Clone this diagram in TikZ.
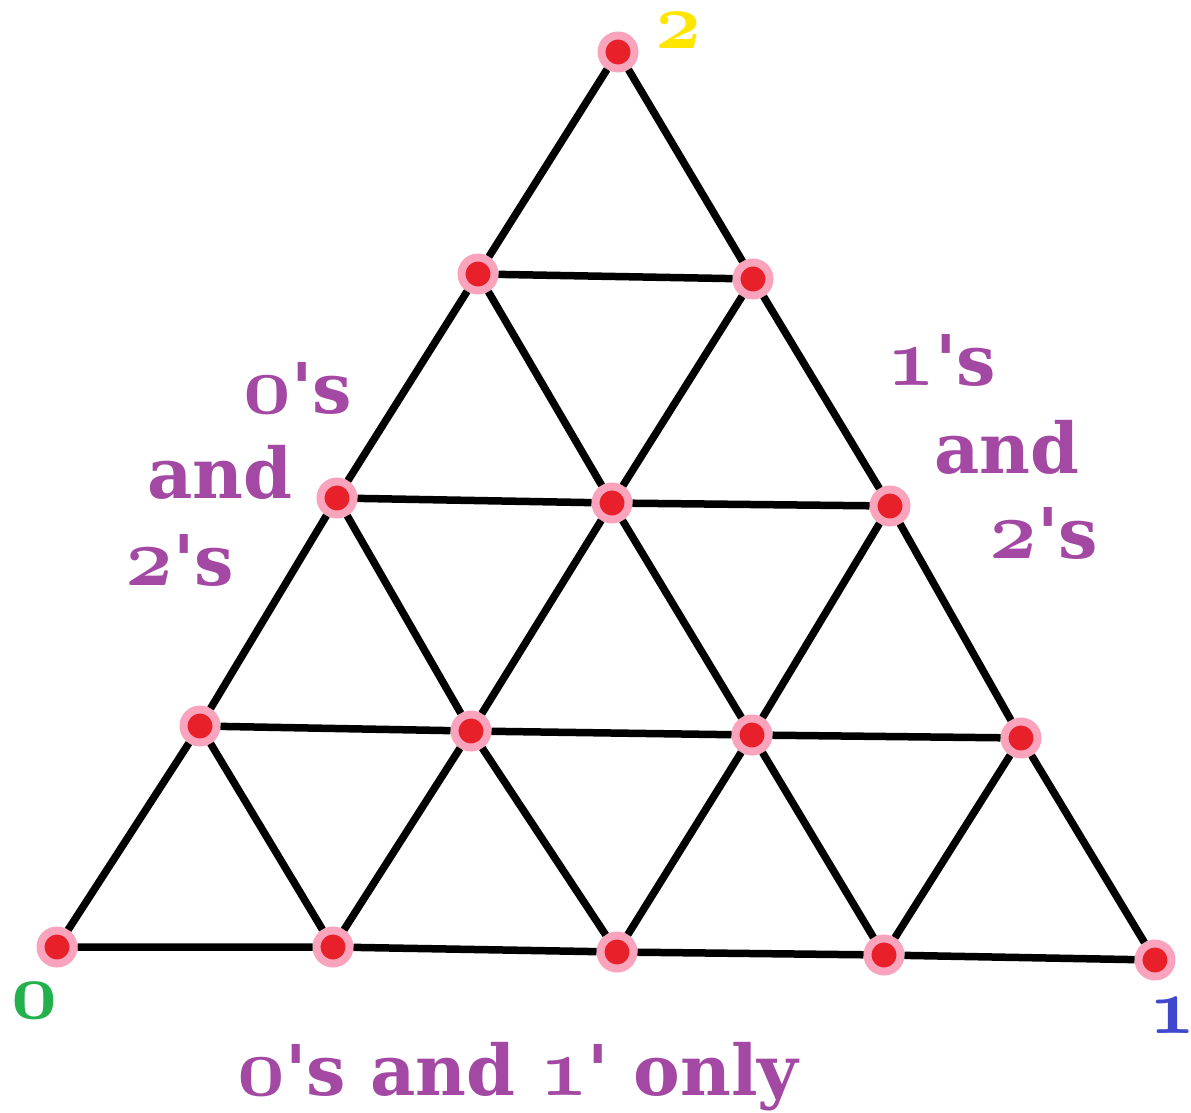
\documentclass[tikz,border=0pt]{standalone}
\usepackage{fontspec}
\setmainfont{DejaVu Serif}
\definecolor{dotred}{HTML}{E8202A}
\definecolor{halopink}{HTML}{F9A3BD}
\definecolor{lblpurple}{HTML}{A349A4}
\definecolor{zerogreen}{HTML}{22B14C}
\definecolor{oneblue}{HTML}{3F48CC}
\definecolor{twoyellow}{HTML}{FFE600}
\newcommand{\osn}[2][8.3]{\scalebox{#1}{\fontsize{10}{12}\usefont{OML}{cmm}{b}{it}#2}}

\begin{document}
\begin{tikzpicture}[x=1pt,y=-1pt,
  dot/.style={circle, fill=dotred, draw=halopink, line width=8pt, minimum size=33pt, inner sep=0pt},
  edge/.style={line width=7.5pt, black},
  lbl/.style={text=lblpurple, font=\bfseries\fontsize{70}{74}\selectfont, inner sep=0pt, anchor=base},
  corner/.style={inner sep=0pt, anchor=base}]
\useasboundingbox (0,0) rectangle (1191,1113);
\node[dot] (a0) at (57,947) {};
\node[dot] (a1) at (333,947) {};
\node[dot] (a2) at (617,952) {};
\node[dot] (a3) at (884,955) {};
\node[dot] (a4) at (1155,960) {};
\node[dot] (b0) at (200,726) {};
\node[dot] (b1) at (471,731) {};
\node[dot] (b2) at (752,735) {};
\node[dot] (b3) at (1021,738) {};
\node[dot] (c0) at (337,498) {};
\node[dot] (c1) at (612,503) {};
\node[dot] (c2) at (890,506) {};
\node[dot] (d0) at (478,274) {};
\node[dot] (d1) at (753,279) {};
\node[dot] (e0) at (618,52) {};
\draw[edge] (a0) -- (a1) -- (a2) -- (a3) -- (a4);
\draw[edge] (b0) -- (b1) -- (b2) -- (b3);
\draw[edge] (c0) -- (c1) -- (c2);
\draw[edge] (d0) -- (d1);
\draw[edge] (a0) -- (b0) -- (c0) -- (d0) -- (e0);
\draw[edge] (a1) -- (b1) -- (c1) -- (d1);
\draw[edge] (a2) -- (b2) -- (c2);
\draw[edge] (a3) -- (b3);
\draw[edge] (a4) -- (b3) -- (c2) -- (d1) -- (e0);
\draw[edge] (a3) -- (b2) -- (c1) -- (d0);
\draw[edge] (a2) -- (b1) -- (c0);
\draw[edge] (a1) -- (b0);
\node[lbl] (lefttop) at (298,413) {\osn{0}\textquotesingle s};
\node[lbl] (leftmid) at (220,498) {and};
\node[lbl] (leftbot) at (180,585) {\osn{2}\textquotesingle s};
\node[lbl] (righttop) at (942,385) {\osn{1}\textquotesingle s};
\node[lbl] (rightmid) at (1007,473) {and};
\node[lbl] (rightbot) at (1044,558) {\osn{2}\textquotesingle s};
\node[lbl] (bottom) at (518,1095) {\osn{0}\textquotesingle s and \osn{1}\textquotesingle{} only};
\node[corner, text=twoyellow] (two) at (678,49) {\osn[8]{2}};
\node[corner, text=zerogreen] (zero) at (35,1018) {\osn[8]{0}};
\node[corner, text=oneblue] (one) at (1172,1033) {\osn[8]{1}};
\end{tikzpicture}
\end{document}
